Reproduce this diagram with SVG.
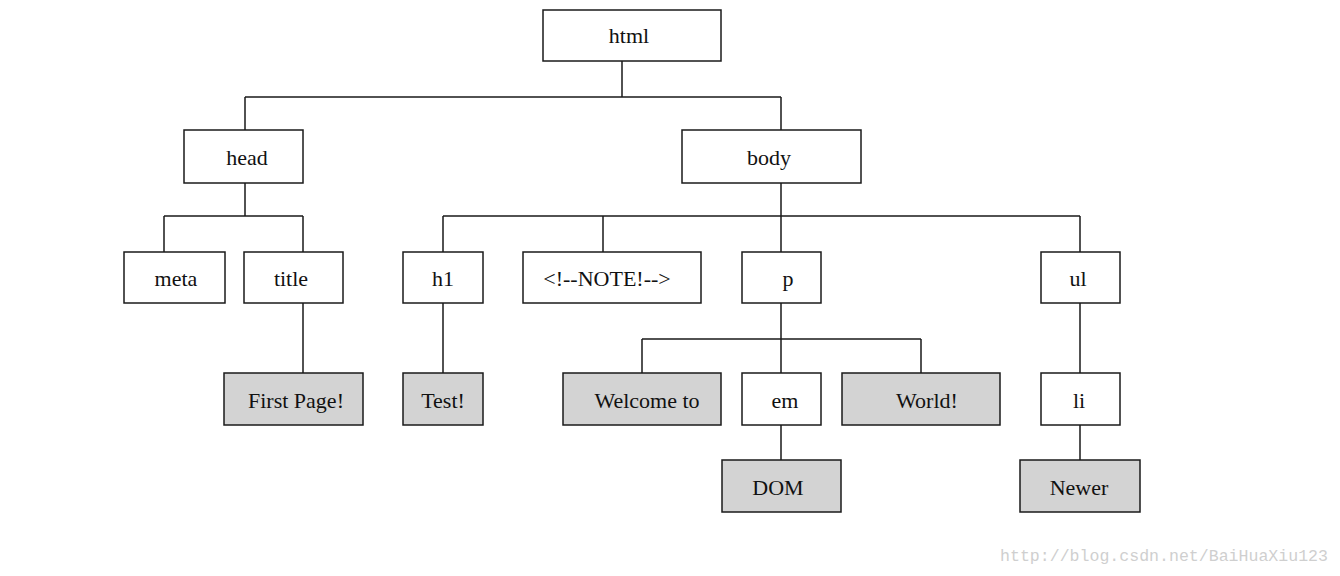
<svg xmlns="http://www.w3.org/2000/svg" width="1340" height="576" viewBox="0 0 1340 576">
<style>
.n rect{fill:#fff;stroke:#1a1a1a;stroke-width:1.5}
.g rect{fill:#d3d3d3}
.n text{font-family:"Liberation Serif","Times New Roman",serif;font-size:22px;fill:#111;text-anchor:middle;dominant-baseline:central}
#connectors path{fill:none;stroke:#1a1a1a;stroke-width:1.5}
.wm{font-family:"Liberation Mono","DejaVu Sans Mono",monospace;font-size:16px;fill:#cfcfcf}
</style>
<rect width="1340" height="576" fill="#fff"/>
<g id="connectors">
<path d="M622 61V97M245 97H781M245 97V130M781 97V130"/>
<path d="M245 183V216M164 216H303M164 216V252M303 216V252"/>
<path d="M781 183V216M443 216H1080M443 216V252M603 216V252M781 216V252M1080 216V252"/>
<path d="M303 303V373M443 303V373"/>
<path d="M781 303V373M642 339H921M642 339V373M921 339V373"/>
<path d="M781 425V460M1080 303V373M1080 425V460"/>
</g>
<g id="html" class="n"><rect x="543" y="10" width="178" height="51"/><text x="629" y="35">html</text></g>
<g id="head" class="n"><rect x="184" y="130" width="119" height="53"/><text x="247" y="157">head</text></g>
<g id="body" class="n"><rect x="682" y="130" width="179" height="53"/><text x="769" y="157">body</text></g>
<g id="meta" class="n"><rect x="124" y="252" width="101" height="51"/><text x="176" y="278">meta</text></g>
<g id="title" class="n"><rect x="244" y="252" width="99" height="51"/><text x="291" y="278">title</text></g>
<g id="h1" class="n"><rect x="403" y="252" width="80" height="51"/><text x="443" y="278">h1</text></g>
<g id="note" class="n"><rect x="523" y="252" width="178" height="51"/><text x="607" y="278">&lt;!--NOTE!--&gt;</text></g>
<g id="p" class="n"><rect x="742" y="252" width="79" height="51"/><text x="788" y="278">p</text></g>
<g id="ul" class="n"><rect x="1041" y="252" width="79" height="51"/><text x="1078" y="278">ul</text></g>
<g id="firstpage" class="n g"><rect x="224" y="373" width="139" height="52"/><text x="296" y="400">First Page!</text></g>
<g id="test" class="n g"><rect x="403" y="373" width="80" height="52"/><text x="443" y="400">Test!</text></g>
<g id="welcome" class="n g"><rect x="563" y="373" width="158" height="52"/><text x="647" y="400">Welcome to</text></g>
<g id="em" class="n"><rect x="742" y="373" width="79" height="52"/><text x="785" y="400">em</text></g>
<g id="world" class="n g"><rect x="842" y="373" width="158" height="52"/><text x="927" y="400">World!</text></g>
<g id="li" class="n"><rect x="1041" y="373" width="79" height="52"/><text x="1079" y="400">li</text></g>
<g id="dom" class="n g"><rect x="722" y="460" width="119" height="52"/><text x="778" y="487">DOM</text></g>
<g id="newer" class="n g"><rect x="1020" y="460" width="120" height="52"/><text x="1079" y="487">Newer</text></g>
<text class="wm" x="1000" y="561" textLength="328" lengthAdjust="spacingAndGlyphs">http://blog.csdn.net/BaiHuaXiu123</text>
</svg>
